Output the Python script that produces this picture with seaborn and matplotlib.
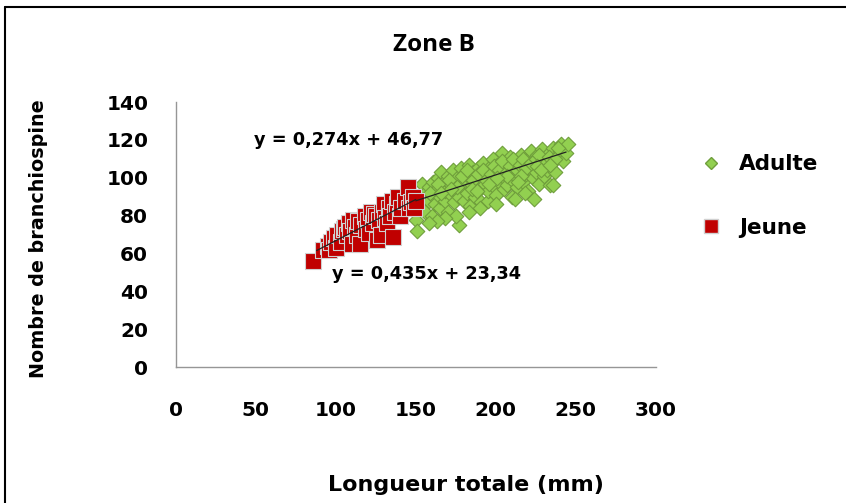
import numpy as np
import pandas as pd
import matplotlib
matplotlib.use("Agg")
import matplotlib.pyplot as plt
import seaborn as sns
from matplotlib.lines import Line2D

# Style
sns.set_theme(style="white")
plt.rcParams['font.family'] = ['DejaVu Sans']
plt.rcParams['font.weight'] = 'bold'
plt.rcParams['text.color'] = 'black'
plt.rcParams['xtick.color'] = 'black'
plt.rcParams['ytick.color'] = 'black'

# Data (Longueur totale mm, Nombre de branchiospine)
adulte_x = [150, 151, 152, 153, 154, 155, 156, 157, 158, 158, 160, 160, 161, 162, 163, 164,
            165, 165, 166, 167, 168, 168, 169, 170, 170, 171, 172, 173, 174, 174, 175, 176,
            177, 177, 178, 179, 180, 180, 181, 182, 183, 184, 184, 185, 186, 187, 188, 189,
            190, 190, 191, 192, 193, 194, 195, 195, 196, 197, 198, 199, 200, 200, 201, 202,
            203, 204, 205, 205, 206, 207, 208, 209, 210, 210, 211, 212, 213, 214, 215, 216,
            217, 218, 219, 220, 220, 221, 222, 223, 224, 224, 225, 226, 227, 228, 229, 230,
            231, 232, 233, 234, 235, 236, 237, 238, 240, 241, 242, 244, 245, 236, 218, 212,
            200, 190, 183, 175, 168, 163, 158,
            159, 164, 171, 176, 179, 182, 186, 189, 192, 194, 197, 199, 202, 204, 206, 209,
            211, 213, 215, 217, 219, 222, 225, 227, 230, 233, 237, 239, 172, 185, 196, 207,
            216, 226, 166, 188, 201, 214, 228, 234]
adulte_y = [78, 72, 84, 90, 97, 86, 82, 93, 88, 95, 80, 91, 98, 86, 94, 100,
            84, 90, 103, 96, 88, 93, 99, 82, 101, 92, 96, 104, 87, 98, 93, 100,
            75, 90, 105, 95, 88, 102, 98, 92, 107, 85, 100, 96, 103, 90, 98, 105,
            94, 100, 87, 108, 97, 102, 88, 93, 105, 99, 110, 95, 102, 91, 107, 98,
            104, 113, 94, 100, 108, 96, 103, 111, 99, 90, 106, 101, 95, 109, 104, 112,
            98, 107, 102, 93, 110, 105, 114, 100, 89, 108, 103, 112, 97, 106, 115, 101,
            110, 104, 113, 96, 108, 116, 103, 111, 114, 118, 109, 113, 118, 96, 92, 89,
            86, 84, 82, 80, 79, 77, 76,
            92, 97, 99, 95, 101, 104, 99, 102, 104, 99, 102, 106, 104, 109, 102, 106,
            110, 104, 107, 110, 105, 108, 110, 112, 107, 111, 110, 116, 94, 94, 97, 101,
            101, 106, 92, 93, 100, 98, 104, 107]

jeune_x = [86, 92, 95, 96, 97, 99, 100, 101, 103, 104, 105, 106, 107, 108, 109, 110,
           111, 112, 113, 114, 115, 116, 118, 119, 120, 121, 122, 123, 124, 125, 126, 127,
           128, 129, 130, 131, 132, 133, 134, 135, 136, 137, 138, 139, 140, 141, 143, 145,
           146, 147, 148, 149, 150]
jeune_y = [56, 62, 64, 62, 66, 68, 63, 70, 66, 72, 73, 74, 70, 76, 72, 65,
           78, 74, 70, 77, 65, 75, 80, 73, 78, 71, 82, 76, 81, 80, 67, 78,
           70, 82, 86, 79, 76, 84, 80, 88, 69, 82, 86, 90, 80, 84, 88, 95,
           84, 87, 90, 84, 88]

# Trend lines (coefficients as printed on the chart) and their x-ranges
adulte_coef = (0.274, 46.77)
adulte_range = [150, 244]
jeune_coef = (0.435, 23.34)
jeune_range = [88, 150]

df_a = pd.DataFrame({'x': adulte_x, 'y': adulte_y})
df_j = pd.DataFrame({'x': jeune_x, 'y': jeune_y})

fig = plt.figure(figsize=(8.46, 5.03), dpi=100)
ax = fig.add_axes([0.208, 0.270, 0.567, 0.527])

sns.scatterplot(data=df_a, x='x', y='y', marker='D', s=55, color='#92D050',
                edgecolor='#6f9e3c', linewidth=0.8, ax=ax, zorder=2)
sns.scatterplot(data=df_j, x='x', y='y', marker='s', s=125, color='#C00000',
                edgecolor='#d0d0d0', linewidth=0.8, ax=ax, zorder=3)

for coef, rng in [(jeune_coef, jeune_range), (adulte_coef, adulte_range)]:
    xs = np.array(rng, dtype=float)
    sns.lineplot(x=xs, y=coef[0] * xs + coef[1], color='#222222', linewidth=0.9,
                 ax=ax, zorder=4, legend=False)

ax.text(48.5, 117.3, 'y = 0,274x + 46,77', fontsize=12.8, fontweight='bold', va='baseline', ha='left')
ax.text(97.5, 46.8, 'y = 0,435x + 23,34', fontsize=12.8, fontweight='bold', va='baseline', ha='left')

ax.set_xlim(0, 300)
ax.set_ylim(0, 140)
ax.set_xticks(range(0, 301, 50))
ax.set_yticks(range(0, 141, 20))
ax.tick_params(axis='x', length=0, pad=24, labelsize=14.5)
ax.tick_params(axis='y', length=0, pad=20, labelsize=14.5)
for lbl in ax.get_xticklabels() + ax.get_yticklabels():
    lbl.set_fontweight('bold')

for side in ['top', 'right']:
    ax.spines[side].set_visible(False)
for side in ['left', 'bottom']:
    ax.spines[side].set_color('#969696')
    ax.spines[side].set_linewidth(1.0)

ax.set_xlabel('')
ax.set_ylabel('')
fig.text(0.513, 0.911, 'Zone B', fontsize=17.5, fontweight='bold', ha='center', va='center',
         family=['Open Sans', 'DejaVu Sans'])
fig.text(0.551, 0.024, 'Longueur totale (mm)', fontsize=16, fontweight='bold',
         ha='center', va='baseline')
fig.text(0.046, 0.526, 'Nombre de branchiospine', fontsize=13.8, fontweight='bold',
         ha='center', va='center', rotation=90)

handles = [Line2D([], [], marker='D', linestyle='', markersize=6.6, markerfacecolor='#92D050',
                  markeredgecolor='#6f9e3c'),
           Line2D([], [], marker='s', linestyle='', markersize=9.5, markerfacecolor='#C00000',
                  markeredgecolor='#d0d0d0')]
ax.legend(handles, ['Adulte', 'Jeune'], loc='upper left', bbox_to_anchor=(0.815, 0.715),
          bbox_transform=fig.transFigure, frameon=False, prop={'size': 15.5, 'weight': 'bold'},
          labelspacing=2.02, handletextpad=0.8, handlelength=1.0, borderpad=0)

# Outer frame (left and top edges as in the reference)
fig.add_artist(Line2D([0.006, 0.006], [0.0, 0.986], color='black', linewidth=1.5,
                      transform=fig.transFigure))
fig.add_artist(Line2D([0.006, 1.0], [0.986, 0.986], color='black', linewidth=1.5,
                      transform=fig.transFigure))

fig.savefig('out.png', dpi=100)
